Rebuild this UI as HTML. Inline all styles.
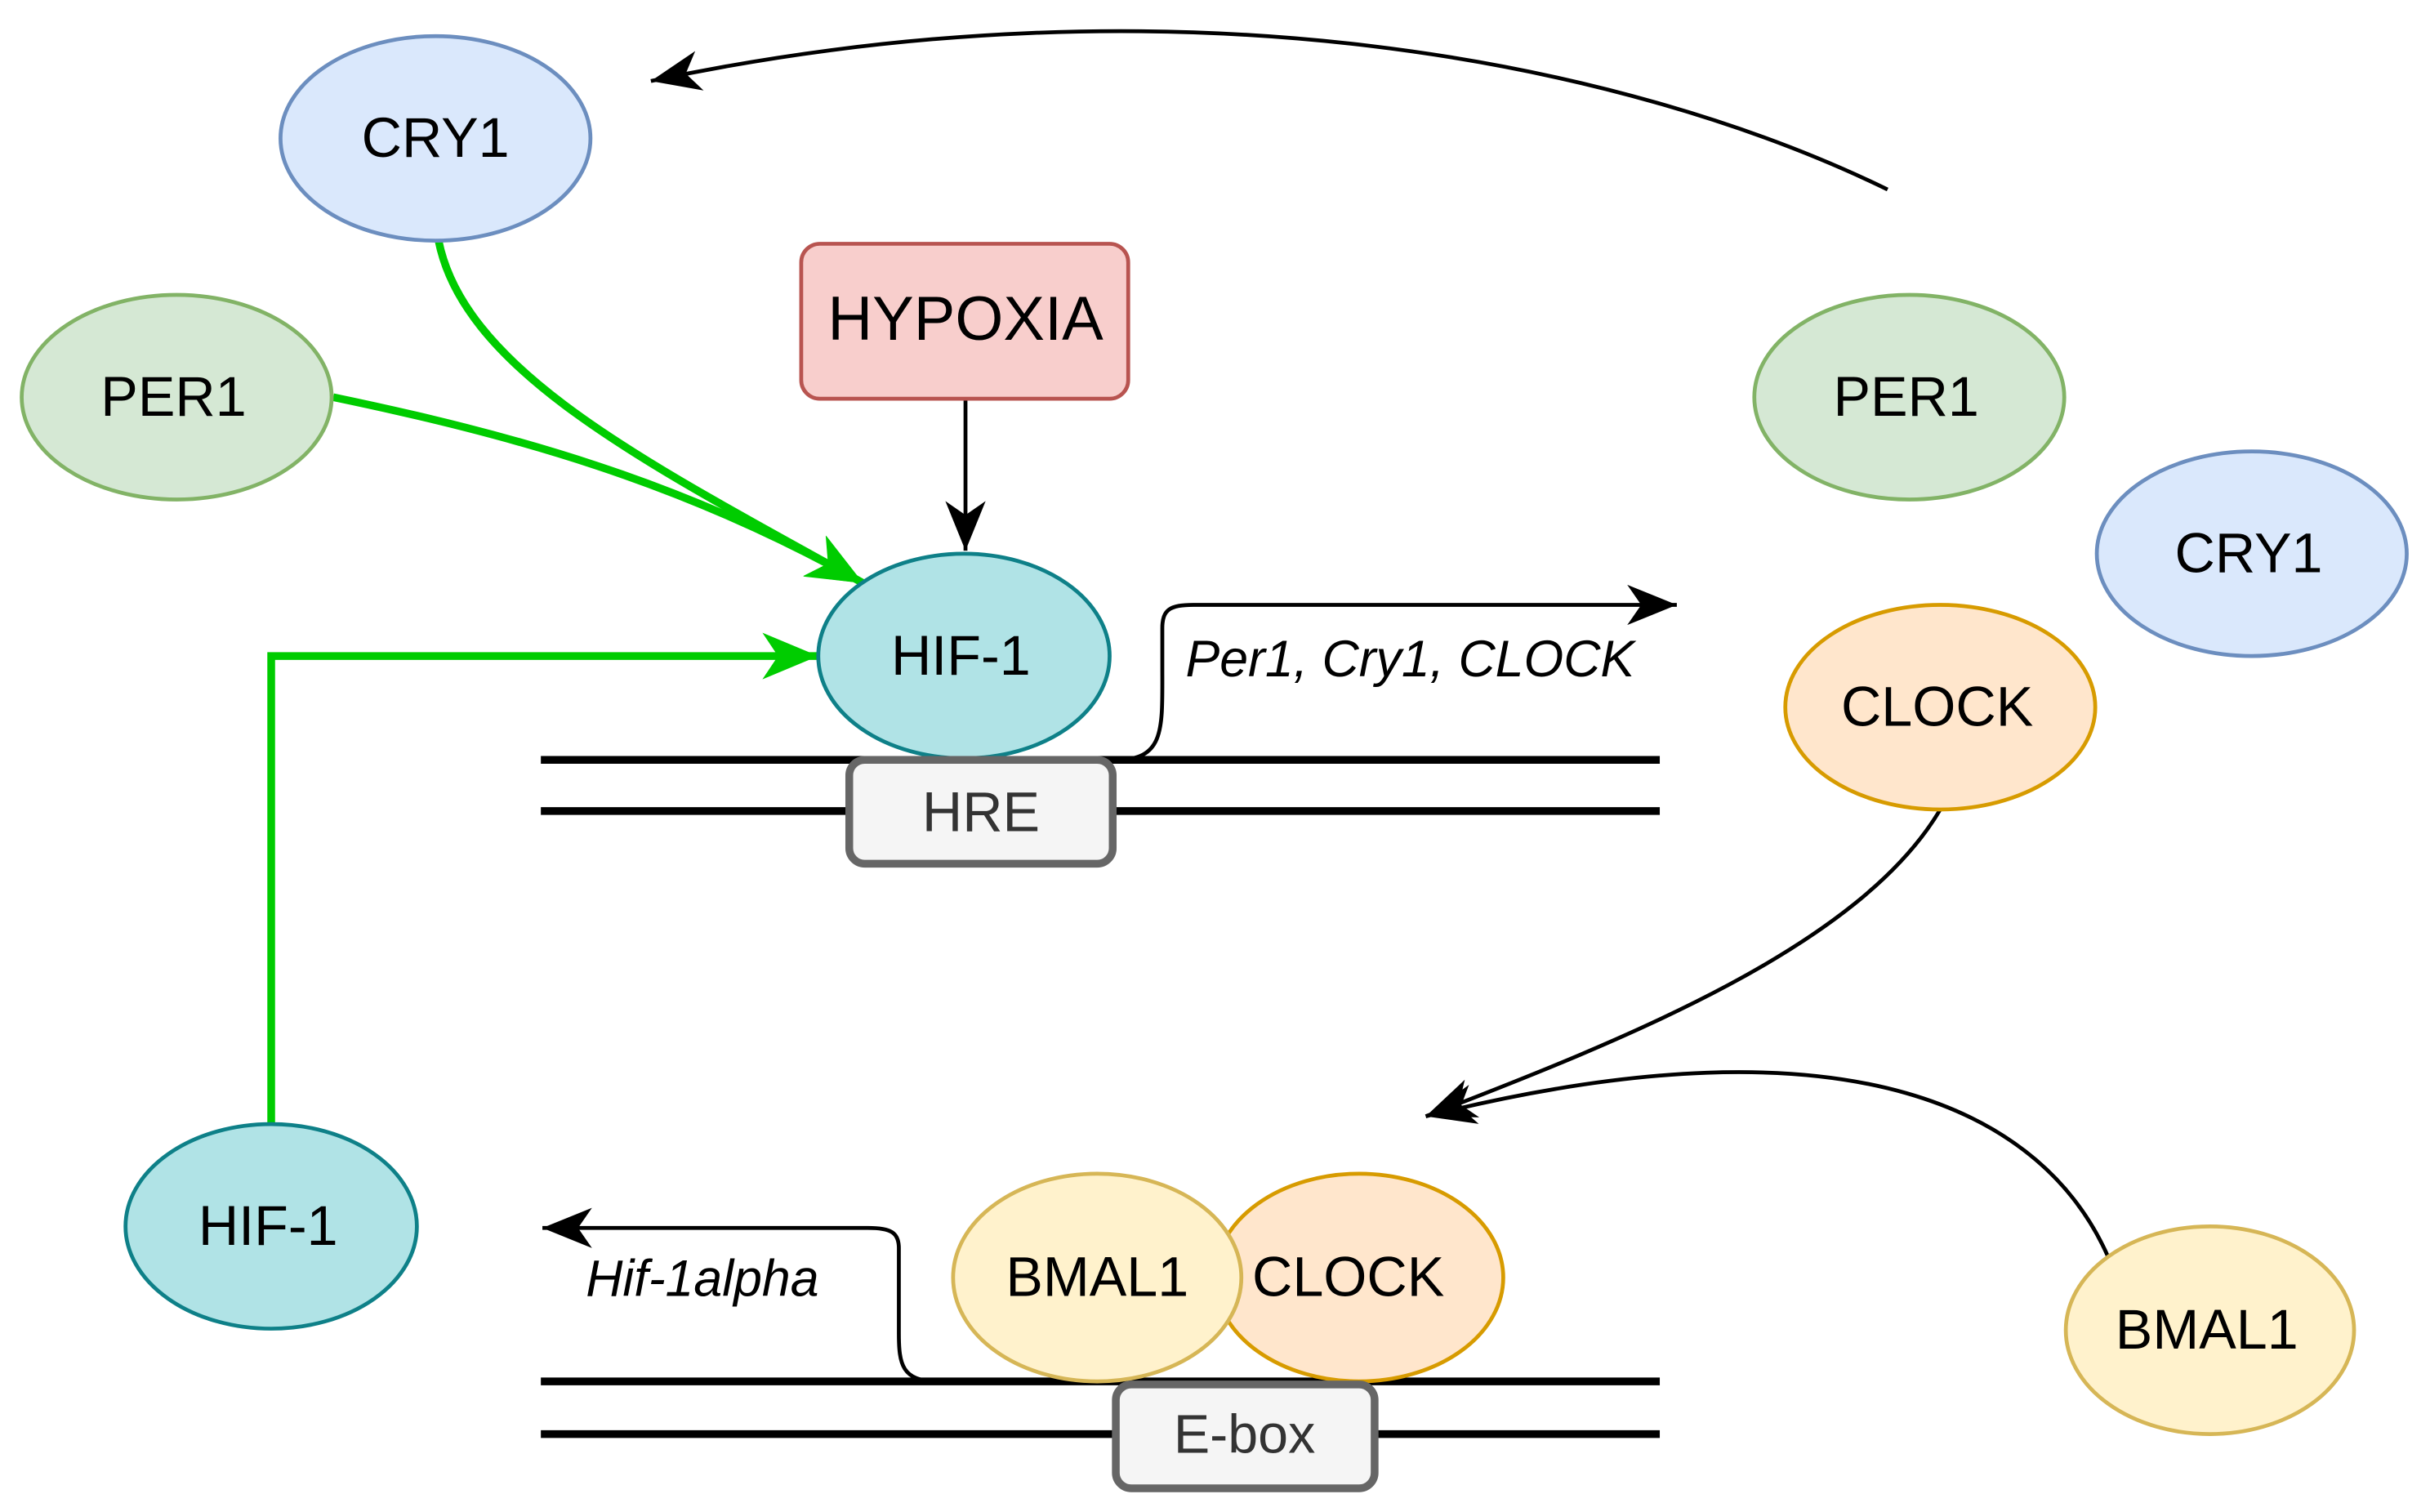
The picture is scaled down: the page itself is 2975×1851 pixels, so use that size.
<!DOCTYPE html>
<html><head><meta charset="utf-8"><style>
html,body{margin:0;padding:0;background:#fff;}
svg{display:block;}
text{font-family:"Liberation Sans",sans-serif;}
</style></head><body>
<svg width="2975" height="1851" viewBox="0 0 1568 975" xmlns="http://www.w3.org/2000/svg">
<defs>
<marker id="akb" markerWidth="34" markerHeight="34" refX="32" refY="17" orient="auto" markerUnits="userSpaceOnUse" viewBox="0 0 34 34"><path d="M0,4 L32,17 L0,30 L9,17 Z" fill="#000"/></marker>
<marker id="ag" markerWidth="38" markerHeight="38" refX="36" refY="19" orient="auto" markerUnits="userSpaceOnUse" viewBox="0 0 38 38"><path d="M0,4 L36,19 L0,34 L10,19 Z" fill="#00cc00"/></marker>
</defs>
<g fill="none" stroke="#000" stroke-width="2.5">
<path d="M1218,122 C1050,40 760,-20 420,52" marker-end="url(#akb)"/>
<path d="M1252,522 C1200,610 1050,670 920,720" marker-end="url(#akb)"/>
<path d="M1360,810 C1320,720 1200,650 920,720" marker-end="url(#akb)"/>
<path d="M623,257 L623,355" marker-end="url(#akb)"/>
<path d="M720,490 C752,490 750,470 750,430 L750,405 C750,393 755,390 770,390 L1082,390" marker-end="url(#akb)"/>
<path d="M605,891 C582,891 580,880 580,860 L580,805 C580,795 575,792 560,792 L350,792" marker-end="url(#akb)"/>
</g>
<g stroke="#000" stroke-width="5">
<line x1="349" y1="490" x2="1071" y2="490"/><line x1="349" y1="523" x2="1071" y2="523"/>
<line x1="349" y1="891" x2="1071" y2="891"/><line x1="349" y1="925" x2="1071" y2="925"/>
</g>
<g fill="none" stroke="#00cc00" stroke-width="5">
<path d="M283,155 C300,240 420,300 557,376" marker-end="url(#ag)"/>
<path d="M215,256 C330,280 440,310 557,376" marker-end="url(#ag)"/>
<path d="M175,725 L175,423 L528,423" marker-end="url(#ag)"/>
</g>
<g stroke-width="2.5">
<ellipse cx="281" cy="89" rx="100" ry="66" fill="#dae8fc" stroke="#6c8ebf"/>
<ellipse cx="114" cy="256" rx="100" ry="66" fill="#d5e8d4" stroke="#82b366"/>
<rect x="517" y="157" width="211" height="100" rx="12" fill="#f8cecc" stroke="#b85450"/>
<ellipse cx="622" cy="423" rx="94" ry="66" fill="#b0e3e6" stroke="#0e8088"/>
<ellipse cx="1232" cy="256" rx="100" ry="66" fill="#d5e8d4" stroke="#82b366"/>
<ellipse cx="1453" cy="357" rx="100" ry="66" fill="#dae8fc" stroke="#6c8ebf"/>
<ellipse cx="1252" cy="456" rx="100" ry="66" fill="#ffe6cc" stroke="#d79b00"/>
<ellipse cx="175" cy="791" rx="94" ry="66" fill="#b0e3e6" stroke="#0e8088"/>
<ellipse cx="877" cy="824" rx="93" ry="67" fill="#ffe6cc" stroke="#d79b00"/>
<ellipse cx="708" cy="824" rx="93" ry="67" fill="#fff2cc" stroke="#d6b656"/>
<ellipse cx="1426" cy="858" rx="93" ry="67" fill="#fff2cc" stroke="#d6b656"/>
</g>
<rect x="548" y="490" width="170" height="67" rx="10" fill="#f5f5f5" stroke="#666" stroke-width="5"/>
<rect x="720" y="893" width="167" height="67" rx="10" fill="#f5f5f5" stroke="#666" stroke-width="5"/>
<g font-size="36" text-anchor="middle" fill="#000">
<text x="281" y="101">CRY1</text>
<text x="112" y="268">PER1</text>
<text x="623" y="219" font-size="40">HYPOXIA</text>
<text x="620" y="435">HIF-1</text>
<text x="1230" y="268">PER1</text>
<text x="1451" y="369">CRY1</text>
<text x="1250" y="468">CLOCK</text>
<text x="173" y="803">HIF-1</text>
<text x="708" y="836">BMAL1</text>
<text x="870" y="836">CLOCK</text>
<text x="1424" y="870">BMAL1</text>
<text x="633" y="536" fill="#333">HRE</text>
<text x="803" y="937" fill="#333" font-size="35">E-box</text>
</g>
<g font-size="33" font-style="italic" fill="#000">
<text x="765" y="436">Per1, Cry1, CLOCK</text>
<text x="378" y="836">Hif-1alpha</text>
</g>
</svg>
</body></html>
